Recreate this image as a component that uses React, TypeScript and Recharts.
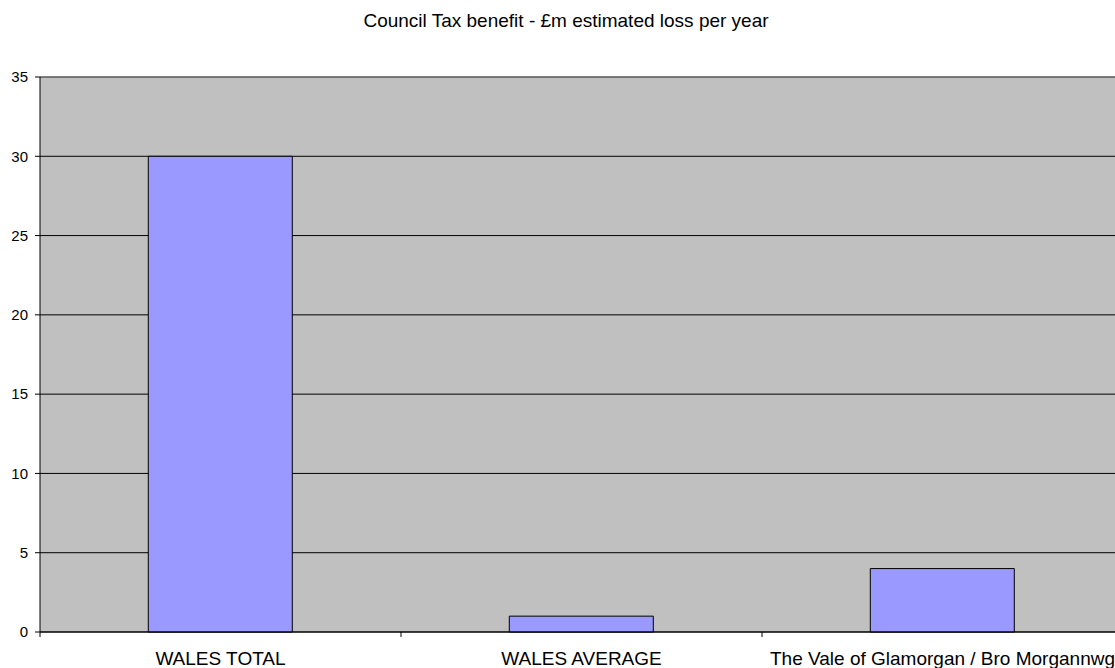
import { BarChart, Bar, XAxis, YAxis, CartesianGrid, ReferenceLine } from 'recharts';

const categories = ['WALES TOTAL', 'WALES AVERAGE', 'The Vale of Glamorgan / Bro Morgannwg'];
const lossValues = [30, 1, 4];
const yTicks = [0, 5, 10, 15, 20, 25, 30, 35];
const edgeTicks = [0, 1, 2, 3];

const data = categories.map((name, i) => ({ name, loss: lossValues[i], edge: i }));

const FONT = '"Liberation Sans", Arial, sans-serif';

function App() {
  return (
    <div
      style={{
        position: 'absolute',
        left: 0,
        top: 0,
        width: 1115,
        height: 668,
        overflow: 'hidden',
        background: '#fff',
        fontFamily: FONT,
      }}
    >
      <div
        style={{
          position: 'absolute',
          left: 0,
          top: 10,
          width: 1132,
          textAlign: 'center',
          fontSize: 19,
          color: '#000',
        }}
      >
        Council Tax benefit - £m estimated loss per year
      </div>

      <BarChart
        width={1130}
        height={668}
        data={data}
        margin={{ top: 77, right: 7, left: 0, bottom: 0 }}
        barCategoryGap="30%"
      >
        <CartesianGrid xAxisId="b" vertical={false} stroke="#000" fill="#C0C0C0" fillOpacity={1} />
        <XAxis
          xAxisId="a"
          dataKey="edge"
          type="number"
          domain={[0, 3]}
          ticks={edgeTicks}
          interval={0}
          allowDataOverflow
          tickFormatter={() => ''}
          tickSize={5}
          axisLine={{ stroke: '#000' }}
          tickLine={{ stroke: '#000' }}
          height={5}
        />
        <XAxis
          xAxisId="b"
          dataKey="name"
          interval={0}
          tickLine={false}
          tickSize={0}
          tickMargin={15}
          axisLine={false}
          tick={{ fill: '#000', fontSize: 19, fontFamily: FONT }}
          height={31}
        />
        <YAxis
          domain={[0, 35]}
          ticks={yTicks}
          width={40}
          tickSize={5}
          tickMargin={7}
          axisLine={{ stroke: '#000' }}
          tickLine={{ stroke: '#000' }}
          tick={{ fill: '#000', fontSize: 15, fontFamily: FONT }}
        />
        <ReferenceLine y={35} xAxisId="b" stroke="#808080" />
        <Bar
          xAxisId="b"
          dataKey="loss"
          fill="#9999FF"
          stroke="#000"
          strokeWidth={1}
          isAnimationActive={false}
        />
      </BarChart>
    </div>
  );
}

export default App;
